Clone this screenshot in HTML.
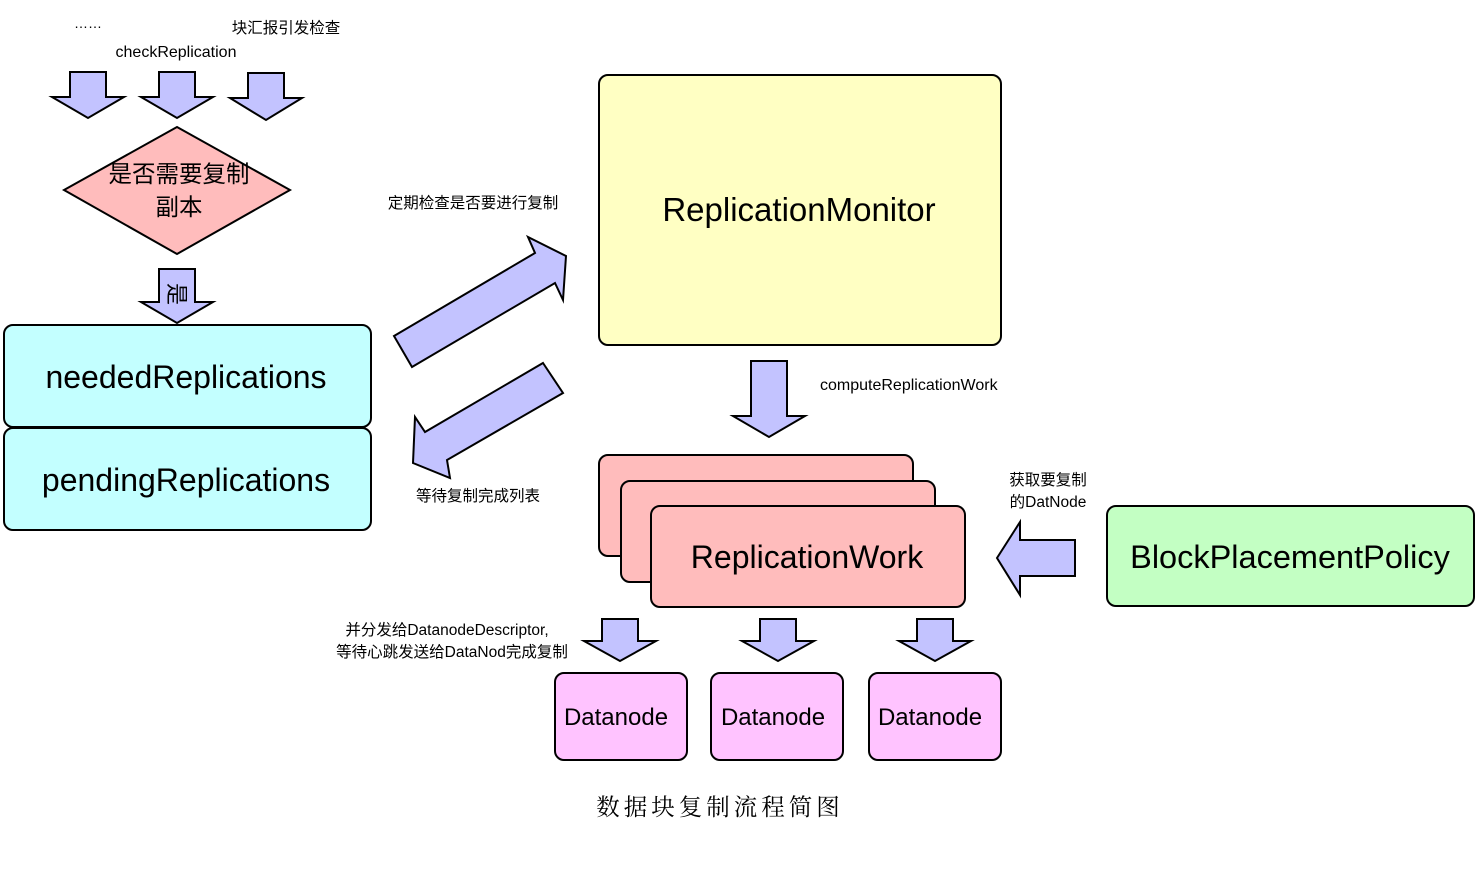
<!DOCTYPE html>
<html><head><meta charset="utf-8"><style>
body{margin:0;background:#fff;}
svg{display:block}
text{font-family:"Liberation Sans","Noto Sans CJK SC",sans-serif;fill:#000}
</style></head><body>
<svg width="1476" height="878" viewBox="0 0 1476 878" xmlns="http://www.w3.org/2000/svg">
<g fill="#c3c3ff" stroke="#000" stroke-width="2" stroke-linejoin="miter">
<polygon points="70,72 106,72 106,97 124,97 88,118 52,97 70,97"/>
<polygon points="159,72 195,72 195,97 213,97 177,118 141,97 159,97"/>
<polygon points="248,73 284,73 284,98 302,98 266,120 230,98 248,98"/>
<polygon points="159,269 195,269 195,302 213,302 177,323 141,302 159,302"/>
<polygon points="394,336 535,253 528,237 566,256 563,300 555,283 412,367"/>
<polygon points="543,363 563,393 447,460 450,478 413,463 415,417 425,432"/>
<polygon points="751,361 787,361 787,416 805,416 769,437 733,416 751,416"/>
<polygon points="1075,540 1075,576 1020,576 1020,595 997,558 1020,522 1020,540"/>
<polygon points="602,619 638,619 638,641 656,641 620,661 584,641 602,641"/>
<polygon points="760,619 796,619 796,641 814,641 778,661 742,641 760,641"/>
<polygon points="917,619 953,619 953,641 971,641 935,661 899,641 917,641"/>
</g>
<polygon points="177,127 290,190 177,254 64,190" fill="#ffbcbc" stroke="#000" stroke-width="2"/>
<rect x="599" y="75" width="402" height="270" rx="9" fill="#ffffc3" stroke="#000" stroke-width="2"/>
<rect x="4" y="325" width="367" height="102" rx="9" fill="#c3ffff" stroke="#000" stroke-width="2"/>
<rect x="4" y="428" width="367" height="102" rx="9" fill="#c3ffff" stroke="#000" stroke-width="2"/>
<rect x="599" y="455" width="314" height="101" rx="9" fill="#ffbcbc" stroke="#000" stroke-width="2"/>
<rect x="621" y="481" width="314" height="101" rx="9" fill="#ffbcbc" stroke="#000" stroke-width="2"/>
<rect x="651" y="506" width="314" height="101" rx="9" fill="#ffbcbc" stroke="#000" stroke-width="2"/>
<rect x="1107" y="506" width="367" height="100" rx="9" fill="#c3ffc3" stroke="#000" stroke-width="2"/>
<rect x="555" y="673" width="132" height="87" rx="9" fill="#ffc3ff" stroke="#000" stroke-width="2"/>
<rect x="711" y="673" width="132" height="87" rx="9" fill="#ffc3ff" stroke="#000" stroke-width="2"/>
<rect x="869" y="673" width="132" height="87" rx="9" fill="#ffc3ff" stroke="#000" stroke-width="2"/>

<text x="88" y="28" font-size="14" text-anchor="middle">……</text>
<text x="286" y="33" font-size="15.5" text-anchor="middle">块汇报引发检查</text>
<text x="176" y="57" font-size="16" text-anchor="middle">checkReplication</text>
<text x="179" y="182" font-size="23.5" text-anchor="middle">是否需要复制</text>
<text x="179" y="215" font-size="23.5" text-anchor="middle">副本</text>
<text x="0" y="0" font-size="22" text-anchor="middle" transform="translate(169,294) rotate(90)">是</text>
<text x="186" y="388" font-size="32" text-anchor="middle">neededReplications</text>
<text x="186" y="491" font-size="32" text-anchor="middle">pendingReplications</text>
<text x="473" y="208" font-size="15.5" text-anchor="middle">定期检查是否要进行复制</text>
<text x="478" y="501" font-size="15.5" text-anchor="middle">等待复制完成列表</text>
<text x="799" y="221" font-size="33" text-anchor="middle">ReplicationMonitor</text>
<text x="820" y="390" font-size="16">computeReplicationWork</text>
<text x="807" y="568" font-size="32" text-anchor="middle">ReplicationWork</text>
<text x="1048" y="485" font-size="15.5" text-anchor="middle">获取要复制</text>
<text x="1048" y="507" font-size="15.5" text-anchor="middle">的DatNode</text>
<text x="1290" y="568" font-size="32.5" text-anchor="middle">BlockPlacementPolicy</text>
<text x="447" y="635" font-size="15.5" text-anchor="middle">并分发给DatanodeDescriptor,</text>
<text x="452" y="657" font-size="15.5" text-anchor="middle">等待心跳发送给DataNod完成复制</text>
<text x="616" y="725" font-size="24" text-anchor="middle">Datanode</text>
<text x="773" y="725" font-size="24" text-anchor="middle">Datanode</text>
<text x="930" y="725" font-size="24" text-anchor="middle">Datanode</text>
<text x="720" y="815" font-size="23.5" text-anchor="middle" letter-spacing="4" style="font-family:'Noto Serif CJK SC',serif">数据块复制流程简图</text>
</svg>
</body></html>
